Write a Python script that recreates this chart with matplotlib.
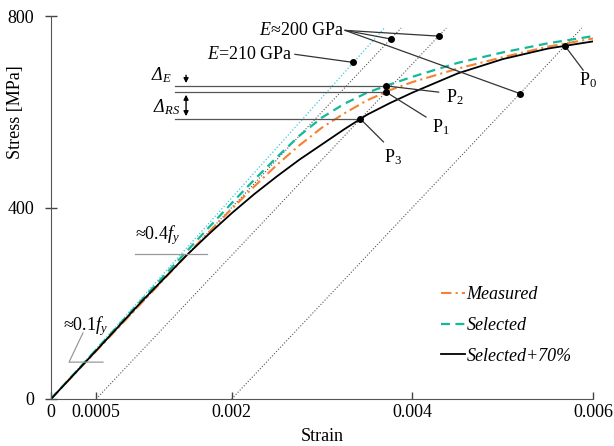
import numpy as np
import matplotlib
matplotlib.use('Agg')
import matplotlib.pyplot as plt

plt.rcParams['font.family'] = ['Liberation Serif', 'DejaVu Serif']
plt.rcParams['mathtext.fontset'] = 'custom'
plt.rcParams['mathtext.rm'] = 'Liberation Serif'
plt.rcParams['mathtext.it'] = 'Liberation Serif:italic'
plt.rcParams['font.size'] = 13

# stress-strain curves (strain [-], stress [MPa])
strain = [0, 0.0005, 0.001, 0.0015, 0.00175, 0.002, 0.00225, 0.0025, 0.00275, 0.003,
          0.00325, 0.0035, 0.00375, 0.004, 0.0045, 0.005, 0.0055, 0.006]
measured = [0, 100, 200, 300, 349, 397, 444, 489, 530, 567,
            597, 624, 645, 662, 690, 714, 736, 753]
selected = [0, 103, 206, 308, 359, 409, 458, 505, 550, 588,
            617, 640, 657, 673, 702, 724, 743, 758]
selected_70 = [0, 101, 203, 300, 345, 388, 428, 465, 500, 532,
               564, 594, 618, 640, 680, 710, 732, 747]

E_steel = 200000.0       # MPa, dotted unloading lines
E_nominal = 210000.0     # MPa, cyan line
offsets = [0, 0.0005, 0.002]
line_top = 775

# anchor stresses for the modulus callouts
e200_dots = [752, 758, 638]
e210_dot = 703

xticks = [0, 0.0005, 0.002, 0.004, 0.006]
xticklabels = ['0', '0.0005', '0.002', '0.004', '0.006']
yticks = [0, 400, 800]

s = np.array(strain)
curves = {'m': np.array(measured), 's': np.array(selected), 'k': np.array(selected_70)}


def hit(curve, off):
    # where the line stress = E*(eps - off) meets a curve
    xs = np.linspace(off, 0.006, 20001)
    ys = np.interp(xs, s, curve)
    d = ys - E_steel * (xs - off)
    i = np.where(np.diff(np.sign(d)) != 0)[0][-1]
    return xs[i], ys[i]


fig = plt.figure(figsize=(6.14, 4.46), dpi=100)
ax = fig.add_axes([0.083, 0.1054, 0.883, 0.8587])

# modulus lines
xe = line_top / E_nominal
ax.plot([0, xe], [0, line_top], ':', color='#3cc8dc', lw=0.9)
for off in offsets:
    ax.plot([off, off + line_top / E_steel], [0, line_top], ':', color='#555555', lw=0.8)

ax.plot(s, curves['m'], color='#f7812f', ls=(0, (5, 2, 1, 2)), lw=1.5, label='Measured')
ax.plot(s, curves['s'], color='#14b89a', ls=(0, (4, 2.5)), lw=1.6, label='Selected')
ax.plot(s, curves['k'], color='black', lw=1.3, label='Selected+70%')

# characteristic points
p1 = hit(curves['m'], 0.0005)
p2 = (p1[0], np.interp(p1[0], s, curves['s']))
p3 = hit(curves['k'], 0.0005)
p0 = hit(curves['k'], 0.002)

x_start = 0.00137
for p in (p2, p1, p3):
    ax.plot([x_start, p[0]], [p[1], p[1]], color='#555555', lw=0.9)

lead = dict(color='#333333', lw=0.9)
for p, end, txt, pos in [(p0, (0.00589, 687), 'P$_0$', (0.00594, 666)),
                         (p1, (0.00415, 589), 'P$_1$', (0.00431, 568)),
                         (p2, (0.00429, 641), 'P$_2$', (0.00447, 630)),
                         (p3, (0.00368, 537), 'P$_3$', (0.00379, 505))]:
    ax.plot([p[0], end[0]], [p[1], end[1]], **lead)
    ax.text(pos[0], pos[1], txt, ha='center', va='center')
    ax.plot(*p, 'o', color='black', ms=4)

# modulus callouts
src = (0.003256, 770)
for off, sy in zip(offsets, e200_dots):
    px = off + sy / E_steel
    ax.plot([src[0], px], [src[1], sy], **lead)
    ax.plot(px, sy, 'o', color='black', ms=4)
ax.text(src[0] - 0.00001, src[1], r'$E$≈200 GPa', ha='right', va='center')

px = e210_dot / E_nominal
ax.plot([0.0027, px], [720, e210_dot], **lead)
ax.plot(px, e210_dot, 'o', color='black', ms=4)
ax.text(0.00267, 720, r'$E$=210 GPa', ha='right', va='center')

# delta arrows
xa = 0.001495
ax.annotate('', xy=(xa, p2[1]), xytext=(xa, p2[1] + 28),
            arrowprops=dict(arrowstyle='-|>', color='black', lw=1.0, mutation_scale=7))
ax.annotate('', xy=(xa, p1[1]), xytext=(xa, p3[1]),
            arrowprops=dict(arrowstyle='<|-|>', color='black', lw=1.0, mutation_scale=7))
ax.text(0.00134, 676, r'Δ$_{E}$', ha='right', va='center', style='italic')
ax.text(0.00143, 610, r'Δ$_{RS}$', ha='right', va='center', style='italic')

# proportional limit marks
ax.plot([0.00093, 0.001728], [303, 303], color='#999999', lw=0.9)
ax.text(0.00093, 318, r'≈0.4$f_y$', ha='left', va='bottom')
ax.plot([0.000354, 0.0002, 0.000576], [138, 77, 77], color='#999999', lw=0.9)
ax.text(0.000133, 152, r'≈0.1$f_y$', ha='left', va='center')

ax.set_xlim(0, 0.006)
ax.set_ylim(0, 800)
ax.set_xticks(xticks)
ax.set_xticklabels(xticklabels)
ax.set_yticks(yticks)
ax.tick_params(axis='x', direction='in', length=5, color='#444444', width=1)
ax.tick_params(axis='y', direction='inout', length=8, color='#444444', width=1, pad=8)
for side in ('top', 'right'):
    ax.spines[side].set_visible(False)
for side in ('left', 'bottom'):
    ax.spines[side].set_color('#555555')
ax.set_xlabel('Strain')
ax.set_ylabel('Stress [MPa]')
ax.xaxis.set_label_coords(0.5, -0.075)
ax.yaxis.set_label_coords(-0.05, 0.75)

leg = ax.legend(loc='center left', bbox_to_anchor=(0.69, 0.192), frameon=False,
                handlelength=1.3, handletextpad=0.1, labelspacing=0.75,
                prop={'style': 'italic', 'size': 13})

fig.savefig('out.png', dpi=100)
